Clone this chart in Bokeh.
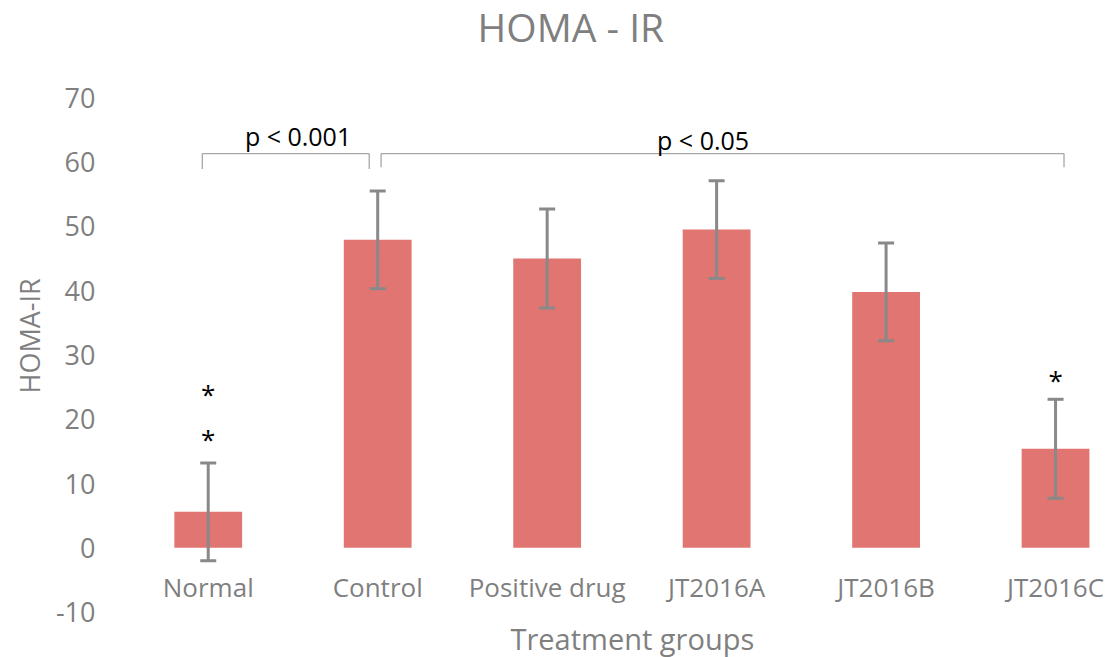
from bokeh.plotting import figure
from bokeh.models import FixedTicker, Title, Whisker, ColumnDataSource, TeeHead, Label
from bokeh.core.properties import value
from bokeh.embed import file_html
from bokeh.resources import INLINE

chart_title = "HOMA - IR"
categories = ["Normal", "Control", "Positive drug", "JT2016A", "JT2016B", "JT2016C"]
means = [5.6, 47.9, 45.0, 49.5, 39.8, 15.4]
errors = [7.6, 7.6, 7.7, 7.6, 7.6, 7.7]
y_ticks = [-10, 0, 10, 20, 30, 40, 50, 60, 70]

star_groups = [0, 0, 5]
star_values = [17.0, 24.0, 26.1]

bracket_labels = ["p < 0.001", "p < 0.05"]
bracket_start = [-0.035, 1.02]
bracket_end = [0.95, 5.05]
bracket_level = [61.3, 61.3]
bracket_drop = [58.9, 59.2]
bracket_label_x = [0.53, 2.92]
bracket_label_y = [64.1, 63.5]

FONT = "Open Sans"
GRAY = "#7f7f7f"
BAR = "#e07572"
ERR = "#898989"

xs = list(range(len(categories)))
src = ColumnDataSource(dict(
    x=xs, top=means,
    upper=[m + e for m, e in zip(means, errors)],
    lower=[m - e for m, e in zip(means, errors)],
))

p = figure(width=1113, height=657, output_backend="svg", toolbar_location=None,
           x_range=(-0.5, 5.342), y_range=(-10.68, 85.12),
           min_border_left=123, min_border_right=0, min_border_top=0, min_border_bottom=0)
p.outline_line_color = None
p.grid.visible = False
p.background_fill_color = "white"
p.border_fill_color = "white"

p.vbar(x="x", top="top", bottom=0, width=0.4, source=src, fill_color=BAR, line_color=None)
wh = Whisker(base="x", upper="upper", lower="lower", source=src,
             line_color=ERR, line_width=3,
             upper_head=TeeHead(size=16, line_color=ERR, line_width=3),
             lower_head=TeeHead(size=16, line_color=ERR, line_width=3))
wh.level = "overlay"
p.add_layout(wh)

# asterisks
p.text(x=[xs[g] for g in star_groups], y=star_values, text=["*"] * len(star_groups),
       text_font=value(FONT), text_font_size="26px", text_color="black",
       text_align="center", text_baseline="middle", y_offset=0)

# brackets
for s, e, lv, dr in zip(bracket_start, bracket_end, bracket_level, bracket_drop):
    p.line(x=[s, s, e, e], y=[dr, lv, lv, dr], line_color="#a6a6a6", line_width=1.3)
p.text(x=bracket_label_x, y=bracket_label_y, text=bracket_labels,
       text_font=value(FONT), text_font_size="25px", text_color="black",
       text_align="center", text_baseline="middle")

# chart title
p.add_layout(Label(x=2.14, y=81.15, text=chart_title, text_align="center",
                   text_baseline="middle", text_font=FONT, text_font_size="39px",
                   text_color=GRAY))

# axes
xa = p.xaxis[0]
xa.ticker = FixedTicker(ticks=xs)
xa.major_label_overrides = {i: c for i, c in zip(xs, categories)}
xa.fixed_location = 0
xa.axis_line_color = None
xa.major_tick_line_color = None
xa.minor_tick_line_color = None
xa.major_label_standoff = 15
xa.major_label_text_font = FONT
xa.major_label_text_font_size = "26px"
xa.major_label_text_color = GRAY

ya = p.yaxis[0]
ya.ticker = FixedTicker(ticks=y_ticks)
ya.major_label_overrides = {t: str(t) for t in y_ticks}
ya.axis_line_color = None
ya.major_tick_line_color = None
ya.minor_tick_line_color = None
ya.major_label_standoff = 22
ya.major_label_text_font = FONT
ya.major_label_text_font_size = "27px"
ya.major_label_text_color = GRAY

p.add_layout(Title(text="Treatment groups", align="left", offset=387,
                   vertical_align="bottom",
                   text_font=FONT, text_font_size="29px", text_font_style="normal",
                   text_color=GRAY, standoff=0), "below")
p.add_layout(Title(text="HOMA-IR", align="left", offset=223,
                   text_font=FONT, text_font_size="27px", text_font_style="normal",
                   text_color=GRAY, standoff=10), "left")

open("out.html", "w").write(file_html(p, INLINE))
